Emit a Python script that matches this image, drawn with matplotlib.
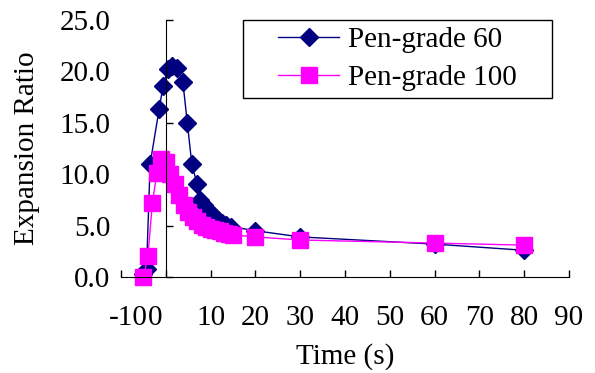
import matplotlib
matplotlib.use("Agg")
import matplotlib.pyplot as plt
import matplotlib.transforms as mtransforms
from matplotlib.patches import Rectangle

# Data
t_60 = [-5, -4.3, -3.5, -1.5, -0.6, 0.4, 1.4, 2.5, 3.8, 4.8, 5.8, 7.0, 7.6,
        8.5, 9.5, 10.5, 11.5, 12.5, 13.5, 14.5, 20, 30, 60, 80]
ratio_60 = [0.3, 0.8, 11.0, 16.3, 18.6, 20.2, 20.5, 20.3, 19.0, 15.0, 11.0, 9.0, 7.5,
            7.0, 6.5, 6.0, 5.6, 5.3, 5.1, 4.9, 4.5, 3.9, 3.2, 2.6]

t_100 = [-5, -4, -3, -2, -1, 0, 1, 2, 3, 4, 5, 6, 7, 8, 9, 10, 11, 12, 13, 14, 15,
         20, 30, 60, 80]
ratio_100 = [0.0, 2.0, 7.2, 10.1, 11.5, 11.2, 10.0, 9.0, 8.0, 7.0, 6.3, 5.8, 5.4,
             5.1, 4.9, 4.7, 4.6, 4.5, 4.3, 4.2, 4.1, 3.9, 3.6, 3.3, 3.1]

x_ticks = [-10, 0, 10, 20, 30, 40, 50, 60, 70, 80, 90]
y_ticks = [0, 5, 10, 15, 20, 25]

plt.rcParams["font.family"] = ["Liberation Serif", "DejaVu Serif"]
plt.rcParams["font.size"] = 21

fig = plt.figure(figsize=(5.95, 3.73), dpi=100)
ax = fig.add_axes([121 / 595, 1 - 277 / 373, 448 / 595, 257 / 373])

ax.plot(t_60, ratio_60, color="#000080", lw=1, marker="D", ms=9,
        markeredgecolor="#000080", markerfacecolor="#000080", label="Pen-grade 60",
        clip_on=False)
ax.plot(t_100, ratio_100, color="#FF00FF", lw=1, marker="s", ms=11,
        markeredgecolor="#FF00FF", markerfacecolor="#FF00FF", label="Pen-grade 100",
        clip_on=False)

ax.set_xlim(-10, 90)
ax.set_ylim(0, 25)
ax.set_xticks(x_ticks)
ax.set_yticks(y_ticks)
ax.set_xticklabels([str(v) for v in x_ticks])
ax.set_yticklabels([f"{v:.1f}" for v in y_ticks])

ax.spines["top"].set_visible(False)
ax.spines["right"].set_visible(False)
ax.spines["left"].set_position(("data", 0))
ax.spines["bottom"].set_position(("data", 0))

ax.tick_params(axis="y", direction="in", length=5, width=1, pad=40)
ax.tick_params(axis="x", direction="in", length=5, width=1, pad=20)

# Excel pushes the -10 and 0 labels together
labels = ax.get_xticklabels()
labels[0].set_transform(labels[0].get_transform() +
                        mtransforms.ScaledTranslation(7 / 100, 0, fig.dpi_scale_trans))
labels[1].set_transform(labels[1].get_transform() +
                        mtransforms.ScaledTranslation(-11 / 100, 0, fig.dpi_scale_trans))

ax.set_xlabel("Time (s)", labelpad=9)
fig.text(27 / 595, 1 - 148 / 373, "Expansion Ratio", rotation=90,
         ha="center", va="center", fontsize=21)

# legend box drawn separately so the padding can be wider than tall
box_x0, box_y0, box_w, box_h = 0.272, 0.697, 0.69, 0.303
ax.add_patch(Rectangle((box_x0, box_y0), box_w, box_h, transform=ax.transAxes,
                       facecolor="white", edgecolor="black", lw=1, clip_on=False,
                       zorder=3))
leg = ax.legend(loc="center", bbox_to_anchor=(box_x0 + box_w / 2, box_y0 + box_h / 2),
                frameon=False, borderpad=0, labelspacing=0.38, handlelength=2.1,
                handletextpad=0.3, fontsize=21)
leg.set_zorder(4)

fig.savefig("out.png", dpi=100)
